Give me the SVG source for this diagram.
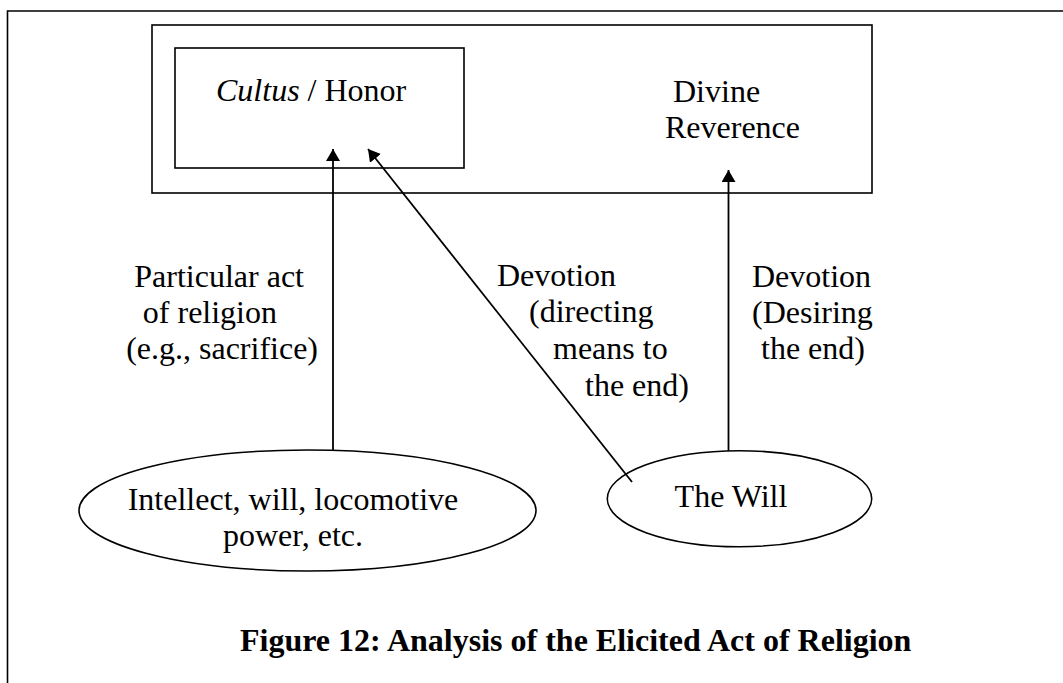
<svg xmlns="http://www.w3.org/2000/svg" width="1063" height="683" viewBox="0 0 1063 683">
  <style>
    .t { font-family: "Liberation Serif", "Times New Roman", serif; font-size: 32px; fill: #000; }
    .b { font-weight: bold; }
    .shape { fill: none; stroke: #000; stroke-width: 1.6; }
    .conn { fill: none; stroke: #000; stroke-width: 1.8; }
  </style>
  <defs>
    <marker id="arr" markerUnits="userSpaceOnUse" markerWidth="14" markerHeight="16" refX="12" refY="7" orient="auto">
      <path d="M0,0 L12,7 L0,14 Z" fill="#000"/>
    </marker>
  </defs>
  <rect width="1063" height="683" fill="#fff"/>
  <path id="frame" class="shape" d="M7.5,683 V11 H1063"/>

  <g id="outer-box">
    <rect class="shape" x="152" y="25" width="720" height="168"/>
    <text class="t" x="673" y="102">Divine</text>
    <text class="t" x="665" y="138">Reverence</text>
  </g>

  <g id="cultus">
    <rect class="shape" x="175" y="48" width="289" height="120"/>
    <text class="t" x="216" y="101"><tspan font-style="italic">Cultus</tspan> / Honor</text>
  </g>

  <g id="powers">
    <ellipse class="shape" cx="307.5" cy="510.5" rx="228.5" ry="60.5"/>
    <text class="t" text-anchor="middle" x="293" y="510">Intellect, will, locomotive</text>
    <text class="t" text-anchor="middle" x="293" y="546">power, etc.</text>
  </g>

  <g id="will">
    <ellipse class="shape" cx="739.5" cy="498.7" rx="132.2" ry="48"/>
    <text class="t" text-anchor="middle" x="731" y="507">The Will</text>
  </g>

  <g id="connectors">
    <line class="conn" x1="333" y1="450" x2="333" y2="149" marker-end="url(#arr)"/>
    <line class="conn" x1="632" y1="482" x2="368" y2="149" marker-end="url(#arr)"/>
    <line class="conn" x1="728.5" y1="451" x2="728.5" y2="170" marker-end="url(#arr)"/>
  </g>

  <g id="label-particular">
    <text class="t" text-anchor="end" x="304" y="287">Particular act</text>
    <text class="t" text-anchor="end" x="277" y="323">of religion</text>
    <text class="t" text-anchor="end" x="318" y="359">(e.g., sacrifice)</text>
  </g>

  <g id="label-devotion-means">
    <text class="t" x="497" y="286">Devotion</text>
    <text class="t" x="529" y="322">(directing</text>
    <text class="t" x="553" y="359">means to</text>
    <text class="t" x="585" y="396">the end)</text>
  </g>

  <g id="label-devotion-end">
    <text class="t" x="752" y="287">Devotion</text>
    <text class="t" x="752" y="323">(Desiring</text>
    <text class="t" x="761" y="359">the end)</text>
  </g>

  <g id="caption">
    <text class="t b" x="240" y="651">Figure 12: Analysis of the Elicited Act of Religion</text>
  </g>
</svg>
